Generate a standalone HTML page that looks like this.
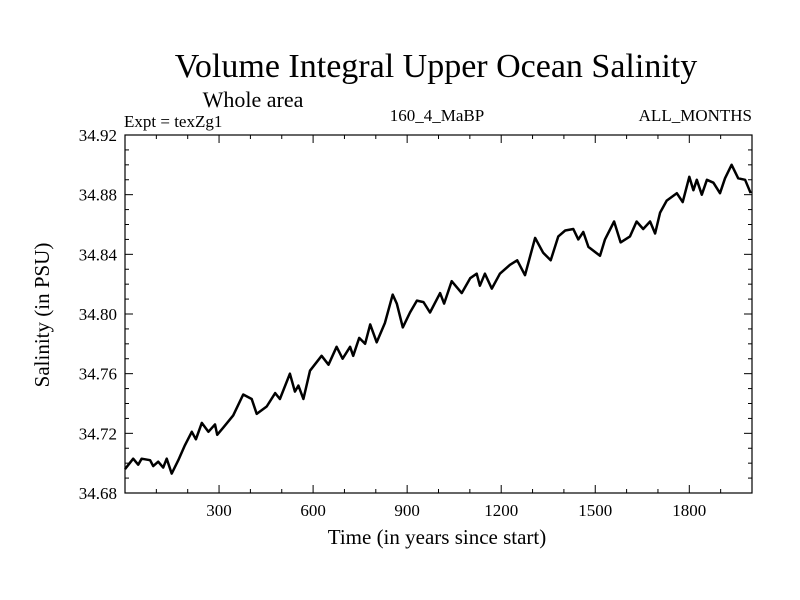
<!DOCTYPE html>
<html><head><meta charset="utf-8"><style>
body{margin:0;background:#fff}
svg{display:block;font-family:"Liberation Serif",serif}
</style></head><body>
<svg id="chart" width="800" height="600">
<text x="436" y="77" font-size="34" text-anchor="middle">Volume Integral Upper Ocean Salinity</text>
<text x="253" y="107" font-size="22" text-anchor="middle">Whole area</text>
<text x="124" y="127" font-size="17">Expt = texZg1</text>
<text x="437" y="121" font-size="17" text-anchor="middle">160_4_MaBP</text>
<text x="752" y="121" font-size="17" text-anchor="end">ALL_MONTHS</text>
<text x="437" y="544" font-size="21" text-anchor="middle">Time (in years since start)</text>
<text transform="translate(49,315) rotate(-90)" font-size="21" text-anchor="middle">Salinity (in PSU)</text>
<g id="ticks"></g>
<rect x="125" y="135" width="627" height="358" fill="none" stroke="#000" stroke-width="1.2"/>
<path id="line" fill="none" stroke="#000" stroke-width="2.5" stroke-linejoin="round"/>
</svg>
<script>
const years=[0,26,42,53,80,90,106,122,133,149,170,191,213,226,245,266,287,294,314,345,377,404,420,452,479,494,526,542,553,569,590,627,649,675,694,718,728,747,766,782,803,829,854,867,886,909,931,952,973,1005,1018,1042,1074,1101,1122,1132,1148,1170,1196,1228,1251,1276,1308,1334,1358,1382,1404,1430,1446,1462,1478,1515,1531,1560,1581,1611,1632,1653,1675,1691,1707,1728,1760,1779,1800,1813,1824,1840,1856,1877,1898,1914,1935,1956,1978,1996];
const salinity=[34.696,34.703,34.699,34.703,34.702,34.698,34.701,34.697,34.703,34.693,34.702,34.712,34.721,34.716,34.727,34.721,34.726,34.719,34.724,34.732,34.746,34.743,34.733,34.738,34.747,34.743,34.760,34.748,34.752,34.743,34.762,34.772,34.766,34.778,34.770,34.778,34.772,34.784,34.780,34.793,34.781,34.794,34.813,34.807,34.791,34.801,34.809,34.808,34.801,34.814,34.807,34.822,34.814,34.824,34.827,34.819,34.827,34.817,34.827,34.833,34.836,34.826,34.851,34.841,34.836,34.852,34.856,34.857,34.850,34.855,34.845,34.839,34.850,34.862,34.848,34.852,34.862,34.857,34.862,34.854,34.868,34.876,34.881,34.875,34.892,34.883,34.890,34.880,34.890,34.888,34.881,34.891,34.900,34.891,34.890,34.881];
const xTickLabels=["300","600","900","1200","1500","1800"];
const yTickLabels=["34.68","34.72","34.76","34.80","34.84","34.88","34.92"];
const X0=125,X1=752,Y0=493,Y1=135,xMin=0,xMax=2000,yMin=34.68,yMax=34.92;
const xs=v=>X0+(v-xMin)/(xMax-xMin)*(X1-X0);
const ys=v=>Y0-(v-yMin)/(yMax-yMin)*(Y0-Y1);
const NS='http://www.w3.org/2000/svg';
const g=document.getElementById('ticks');
function ln(x1,y1,x2,y2,name){const l=document.createElementNS(NS,'line');l.setAttribute('x1',x1);l.setAttribute('y1',y1);l.setAttribute('x2',x2);l.setAttribute('y2',y2);l.setAttribute('stroke','#000');l.setAttribute('stroke-width','1');


g.appendChild(l);}
function tx(x,y,s,anchor,name){const t=document.createElementNS(NS,'text');t.setAttribute('x',x);t.setAttribute('y',y);t.setAttribute('font-size','17');t.setAttribute('text-anchor',anchor);t.textContent=s;


g.appendChild(t);}
for(let v=100;v<2000;v+=100){const x=xs(v);const major=v%300===0;const L=major?8:4;
ln(x,Y0,x,Y0-L,'x-tick');ln(x,Y1,x,Y1+L,'x-tick-top');}
xTickLabels.forEach(s=>tx(xs(+s),Y0+23,s,'middle','x-tick-label'));
for(let i=1;i<24;i++){const v=yMin+i*0.01;const y=ys(v);const major=i%4===0;const L=major?8:4;
ln(X0,y,X0+L,y,'y-tick');ln(X1,y,X1-L,y,'y-tick-right');}
yTickLabels.forEach(s=>tx(X0-8,ys(+s)+6,s,'end','y-tick-label'));
document.getElementById('line').setAttribute('d',years.map((y,i)=>(i?'L':'M')+xs(y).toFixed(1)+','+ys(salinity[i]).toFixed(1)).join(''));
</script>
</body></html>
